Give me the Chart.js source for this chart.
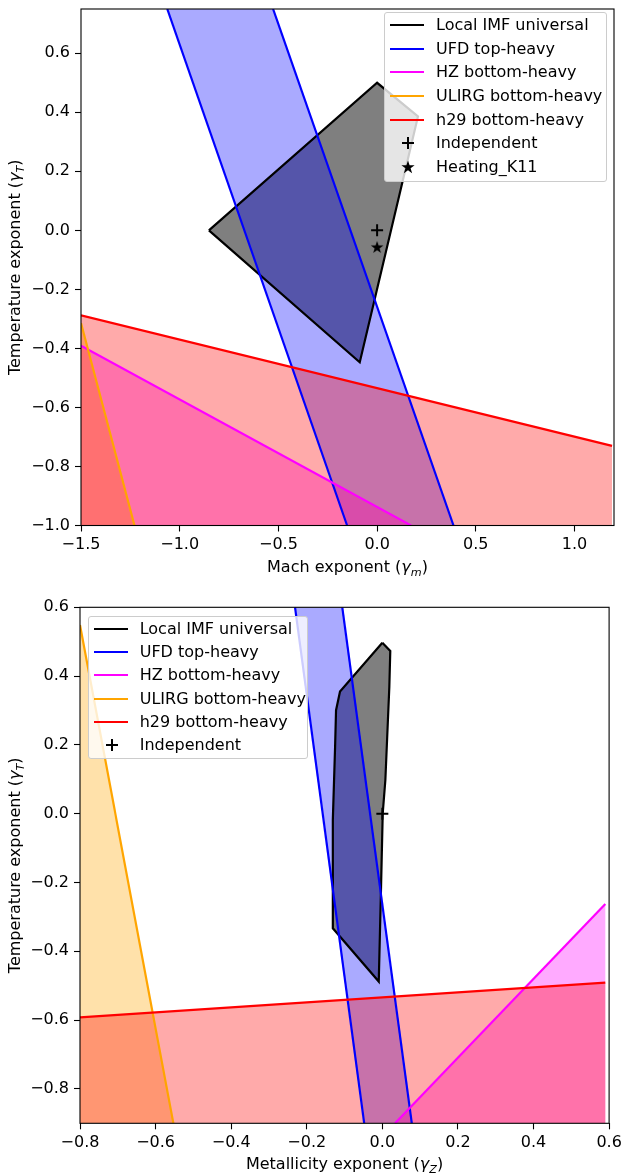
<!DOCTYPE html>
<html><head><meta charset="utf-8">
<script src="https://cdn.jsdelivr.net/npm/chart.js@4.4.0/dist/chart.umd.min.js"></script>
<style>
html,body{margin:0;padding:0;background:#fff;}
body{width:623px;height:1173px;position:relative;overflow:hidden;font-family:"DejaVu Sans",sans-serif;}
.wrap{position:absolute;left:0;width:623px;}
#w1{top:0;height:590px}
#w2{top:590px;height:583px}
canvas{display:block}
.legend{position:absolute;box-sizing:border-box;background:rgba(255,255,255,0.8);border:1px solid #cccccc;border-radius:3px;font:16px "DejaVu Sans",sans-serif;color:#000;}
.row{position:absolute;left:0;right:0;height:20px;line-height:20px;}
.handle{position:absolute;left:5px;width:34px;height:2px;top:9px;}
.lbl{position:absolute;left:51px;top:0;white-space:nowrap;}
.mk{position:absolute;left:14px;top:1px;width:18px;height:18px;}
</style></head><body>
<div class="wrap" id="w1"><canvas id="c1" width="623" height="590"></canvas></div>
<div class="wrap" id="w2"><canvas id="c2" width="623" height="583"></canvas></div>
<div class="legend" id="lg1"></div>
<div class="legend" id="lg2"></div>
<script>
// ---------------- data: top panel (Mach exponent) ----------------
const machTickValues = [-1.5, -1.0, -0.5, 0.0, 0.5, 1.0];
const machTickLabels = ['\u22121.5', '\u22121.0', '\u22120.5', '0.0', '0.5', '1.0'];
const tempTopTickValues = [-1.0, -0.8, -0.6, -0.4, -0.2, 0.0, 0.2, 0.4, 0.6];
const tempTopTickLabels = ['\u22121.0', '\u22120.8', '\u22120.6', '\u22120.4', '\u22120.2', '0.0', '0.2', '0.4', '0.6'];
const machRange = [-1.5, 1.2];
const tempTopRange = [-1.0, 0.75];

const machLocalX = [-0.852, 0.0, 0.207, -0.088];
const machLocalY = [0.0, 0.5, 0.386, -0.447];
const machUfdY = [0.75, -1.0];
const machUfdLeftX = [-1.063, -0.152];
const machUfdRightX = [-0.527, 0.387];
const machHzX = [-1.5, 0.172];
const machHzY = [-0.391, -1.0];
const machUlirgX = [-1.5, -1.229];
const machUlirgY = [-0.314, -1.0];
const machH29X = [-1.5, 1.19];
const machH29Y = [-0.288, -0.730];
const machIndependent = [0.0, 0.0];
const machHeatingK11 = [0.0, -0.056];

// ---------------- data: bottom panel (Metallicity exponent) ----------------
const metTickValues = [-0.8, -0.6, -0.4, -0.2, 0.0, 0.2, 0.4, 0.6];
const metTickLabels = ['\u22120.8', '\u22120.6', '\u22120.4', '\u22120.2', '0.0', '0.2', '0.4', '0.6'];
const tempBotTickValues = [-0.8, -0.6, -0.4, -0.2, 0.0, 0.2, 0.4, 0.6];
const tempBotTickLabels = ['\u22120.8', '\u22120.6', '\u22120.4', '\u22120.2', '0.0', '0.2', '0.4', '0.6'];
const metRange = [-0.8, 0.6];
const tempBotRange = [-0.9, 0.6];

const metLocalX = [0.0, 0.021, 0.0185, 0.008, 0.001, -0.0034, -0.0095, -0.131, -0.131, -0.125, -0.1225, -0.112];
const metLocalY = [0.497, 0.473, 0.369, 0.098, 0.001, -0.212, -0.488, -0.333, -0.018, 0.195, 0.301, 0.355];
const metUfdY = [0.6, -0.9];
const metUfdLeftX = [-0.231, -0.048];
const metUfdRightX = [-0.106, 0.078];
const metHzX = [0.0336, 0.59];
const metHzY = [-0.9, -0.2625];
const metUlirgX = [-0.8, -0.553];
const metUlirgY = [0.5485, -0.9];
const metH29X = [-0.8, 0.59];
const metH29Y = [-0.592, -0.491];
const metIndependent = [0.0, 0.0];

const seriesNames = ['Local IMF universal', 'UFD top-heavy', 'HZ bottom-heavy', 'ULIRG bottom-heavy', 'h29 bottom-heavy'];
const markerNamesTop = ['Independent', 'Heating_K11'];
const markerNamesBottom = ['Independent'];
const seriesColors = ['#000000', '#0000ff', '#ff00ff', '#ffa500', '#ff0000'];
const seriesFills = ['rgba(0,0,0,0.5)', 'rgba(0,0,255,0.333)', 'rgba(255,0,255,0.333)', 'rgba(255,165,0,0.333)', 'rgba(255,0,0,0.333)'];

// ---------------- helpers ----------------
const pts = (xs, ys) => xs.map((x, i) => ({x: x, y: ys[i]}));
const FONT = '"DejaVu Sans"';

const starCanvas = (() => {
  const c = document.createElement('canvas');
  c.width = 14; c.height = 14;
  const g = c.getContext('2d');
  g.fillStyle = '#000';
  g.beginPath();
  for (let i = 0; i < 10; i++) {
    const r = i % 2 === 0 ? 6.6 : 2.6;
    const a = -Math.PI / 2 + i * Math.PI / 5;
    const px = 7 + r * Math.cos(a), py = 7.6 + r * Math.sin(a);
    if (i === 0) g.moveTo(px, py); else g.lineTo(px, py);
  }
  g.closePath(); g.fill();
  return c;
})();

function fillSet(data, color, order) {
  return {data: data, showLine: true, fill: 'shape', backgroundColor: color, borderColor: 'rgba(0,0,0,0)',
          borderWidth: 0, pointRadius: 0, pointHoverRadius: 0, order: order, clip: 0};
}
function lineSet(data, color, order) {
  return {data: data, showLine: true, fill: false, borderColor: color, backgroundColor: color,
          borderWidth: 2.2, pointRadius: 0, pointHoverRadius: 0, order: order, clip: 0, borderCapStyle: 'butt'};
}
function markerSet(x, y, style, order) {
  return {data: [{x: x, y: y}], showLine: false, pointStyle: style, pointRadius: style === 'cross' ? 6 : 7,
          borderColor: '#000', backgroundColor: '#000', borderWidth: 2, order: order, clip: false};
}

function drawRich(ctx, parts, cx, cy, rot) {
  const fonts = parts.map(p => (p.it ? 'italic ' : '') + (p.sub ? '11.2px ' : '16px ') + FONT);
  let w = 0;
  parts.forEach((p, i) => { ctx.font = fonts[i]; w += ctx.measureText(p.t).width; });
  ctx.save();
  ctx.translate(cx, cy); ctx.rotate(rot);
  ctx.textAlign = 'left'; ctx.textBaseline = 'alphabetic';
  let x = -w / 2;
  parts.forEach((p, i) => {
    ctx.font = fonts[i];
    ctx.fillText(p.t, x, 6 + (p.sub ? 3.5 : 0));
    x += ctx.measureText(p.t).width;
  });
  ctx.restore();
}

const framePlugin = {
  id: 'frame',
  afterDatasetsDraw(chart) {
    const {ctx, chartArea: a} = chart;
    ctx.save(); ctx.strokeStyle = '#000'; ctx.lineWidth = 1.1;
    ctx.strokeRect(a.left, a.top, a.right - a.left, a.bottom - a.top);
    ctx.restore();
  }
};
const titlePlugin = {
  id: 'axisTitles',
  afterDraw(chart, args, opts) {
    const {ctx, chartArea: a} = chart;
    ctx.save(); ctx.fillStyle = '#000';
    drawRich(ctx, opts.x, (a.left + a.right) / 2, a.bottom + opts.xGap, 0);
    drawRich(ctx, opts.y, opts.yX, (a.top + a.bottom) / 2, -Math.PI / 2);
    ctx.restore();
  }
};

function axis(range, values, labels, isX, size) {
  return {
    type: 'linear', min: range[0], max: range[1], position: isX ? 'bottom' : 'left',
    afterBuildTicks: s => { s.ticks = values.map(v => ({value: v})); },
    afterFit: s => {
      if (isX) { s.height = size; s.paddingLeft = 0; s.paddingRight = 0; }
      else { s.width = size; s.paddingTop = 0; s.paddingBottom = 0; }
    },
    grid: {display: true, drawOnChartArea: false, drawTicks: true, tickLength: 6, tickWidth: 1.1, tickColor: '#000'},
    border: {display: false},
    ticks: {color: '#000', font: {family: 'DejaVu Sans', size: 16}, padding: isX ? 3.5 : 5,
            maxRotation: 0, minRotation: 0, autoSkip: false, includeBounds: false,
            callback: (v, i) => labels[i]},
    title: {display: false}
  };
}

function makeChart(id, datasets, sc, lay, titles) {
  return new Chart(document.getElementById(id), {
    type: 'scatter',
    data: {datasets: datasets},
    options: {
      responsive: false, animation: false, devicePixelRatio: 1,
      layout: {padding: lay},
      plugins: {legend: {display: false}, tooltip: {enabled: false}, axisTitles: titles},
      scales: sc,
      elements: {line: {tension: 0}}
    },
    plugins: [framePlugin, titlePlugin]
  });
}

// ---------------- top chart ----------------
const machFloor = tempTopRange[0];
makeChart('c1', [
  fillSet(pts(machLocalX, machLocalY), seriesFills[0], 100),
  fillSet(pts(machUfdLeftX, machUfdY).concat(pts(machUfdRightX, machUfdY).reverse()), seriesFills[1], 99),
  fillSet(pts(machHzX, machHzY).concat([{x: machHzX[0], y: machFloor}]), seriesFills[2], 98),
  fillSet(pts(machUlirgX, machUlirgY).concat([{x: machUlirgX[0], y: machFloor}]), seriesFills[3], 97),
  fillSet(pts(machH29X, machH29Y).concat([{x: machH29X[1], y: machFloor}, {x: machH29X[0], y: machFloor}]), seriesFills[4], 96),
  lineSet(pts(machLocalX.concat([machLocalX[0]]), machLocalY.concat([machLocalY[0]])), seriesColors[0], 50),
  lineSet(pts(machUfdLeftX, machUfdY), seriesColors[1], 49),
  lineSet(pts(machUfdRightX, machUfdY), seriesColors[1], 49),
  lineSet(pts(machHzX, machHzY), seriesColors[2], 48),
  lineSet(pts(machUlirgX, machUlirgY), seriesColors[3], 47),
  lineSet(pts(machH29X, machH29Y), seriesColors[4], 46),
  markerSet(machIndependent[0], machIndependent[1], 'cross', 2),
  markerSet(machHeatingK11[0], machHeatingK11[1], starCanvas, 1)
], {
  x: axis(machRange, machTickValues, machTickLabels, true, 64.5),
  y: axis(tempTopRange, tempTopTickValues, tempTopTickLabels, false, 81)
}, {top: 4.5, right: 8, left: 0, bottom: 0}, {
  x: [{t: 'Mach exponent ('}, {t: '\u03b3', it: true}, {t: 'm', it: true, sub: true}, {t: ')'}],
  y: [{t: 'Temperature exponent ('}, {t: '\u03b3', it: true}, {t: 'T', it: true, sub: true}, {t: ')'}],
  xGap: 40.5, yX: 14
});

// ---------------- bottom chart ----------------
const metFloor = tempBotRange[0];
makeChart('c2', [
  fillSet(pts(metLocalX, metLocalY), seriesFills[0], 100),
  fillSet(pts(metUfdLeftX, metUfdY).concat(pts(metUfdRightX, metUfdY).reverse()), seriesFills[1], 99),
  fillSet(pts(metHzX, metHzY).concat([{x: metHzX[1], y: metFloor}]), seriesFills[2], 98),
  fillSet(pts(metUlirgX, metUlirgY).concat([{x: metUlirgX[0], y: metFloor}]), seriesFills[3], 97),
  fillSet(pts(metH29X, metH29Y).concat([{x: metH29X[1], y: metFloor}, {x: metH29X[0], y: metFloor}]), seriesFills[4], 96),
  lineSet(pts(metLocalX.concat([metLocalX[0]]), metLocalY.concat([metLocalY[0]])), seriesColors[0], 50),
  lineSet(pts(metUfdLeftX, metUfdY), seriesColors[1], 49),
  lineSet(pts(metUfdRightX, metUfdY), seriesColors[1], 49),
  lineSet(pts(metHzX, metHzY), seriesColors[2], 48),
  lineSet(pts(metUlirgX, metUlirgY), seriesColors[3], 47),
  lineSet(pts(metH29X, metH29Y), seriesColors[4], 46),
  markerSet(metIndependent[0], metIndependent[1], 'cross', 1)
], {
  x: axis(metRange, metTickValues, metTickLabels, true, 49.7),
  y: axis(tempBotRange, tempBotTickValues, tempBotTickLabels, false, 80)
}, {top: 17.3, right: 13.9, left: 0, bottom: 0}, {
  x: [{t: 'Metallicity exponent ('}, {t: '\u03b3', it: true}, {t: 'Z', it: true, sub: true}, {t: ')'}],
  y: [{t: 'Temperature exponent ('}, {t: '\u03b3', it: true}, {t: 'T', it: true, sub: true}, {t: ')'}],
  xGap: 39.7, yX: 14
});

// ---------------- legends (HTML overlay) ----------------
const plusSvg = '<svg class="mk" viewBox="0 0 18 18"><path d="M9 3V15M3 9H15" stroke="#000" stroke-width="2" fill="none"/></svg>';
const starSvg = '<svg class="mk" viewBox="0 0 18 18"><path d="M9 2.4L10.6 7.3L15.6 7.3L11.6 10.3L13.1 15.2L9 12.2L4.9 15.2L6.4 10.3L2.4 7.3L7.4 7.3Z" fill="#000"/></svg>';
function buildLegend(id, box, names, markers, firstRow, step) {
  const el = document.getElementById(id);
  el.style.left = box[0] + 'px'; el.style.top = box[1] + 'px';
  el.style.width = box[2] + 'px'; el.style.height = box[3] + 'px';
  let html = '';
  names.forEach((n, i) => {
    const top = firstRow + i * step - 10 - 1;
    html += '<div class="row" style="top:' + top + 'px"><div class="handle" style="background:' + seriesColors[i] + '"></div><span class="lbl">' + n + '</span></div>';
  });
  markers.forEach((n, j) => {
    const top = firstRow + (names.length + j) * step - 10 - 1;
    html += '<div class="row" style="top:' + top + 'px">' + (j === 0 ? plusSvg : starSvg) + '<span class="lbl">' + n + '</span></div>';
  });
  el.innerHTML = html;
}
buildLegend('lg1', [384, 12.3, 223.3, 169.4], seriesNames, markerNamesTop, 12.7, 23.65);
buildLegend('lg2', [87.7, 616, 220.6, 143], seriesNames, markerNamesBottom, 13, 23.2);
</script>
</body></html>
